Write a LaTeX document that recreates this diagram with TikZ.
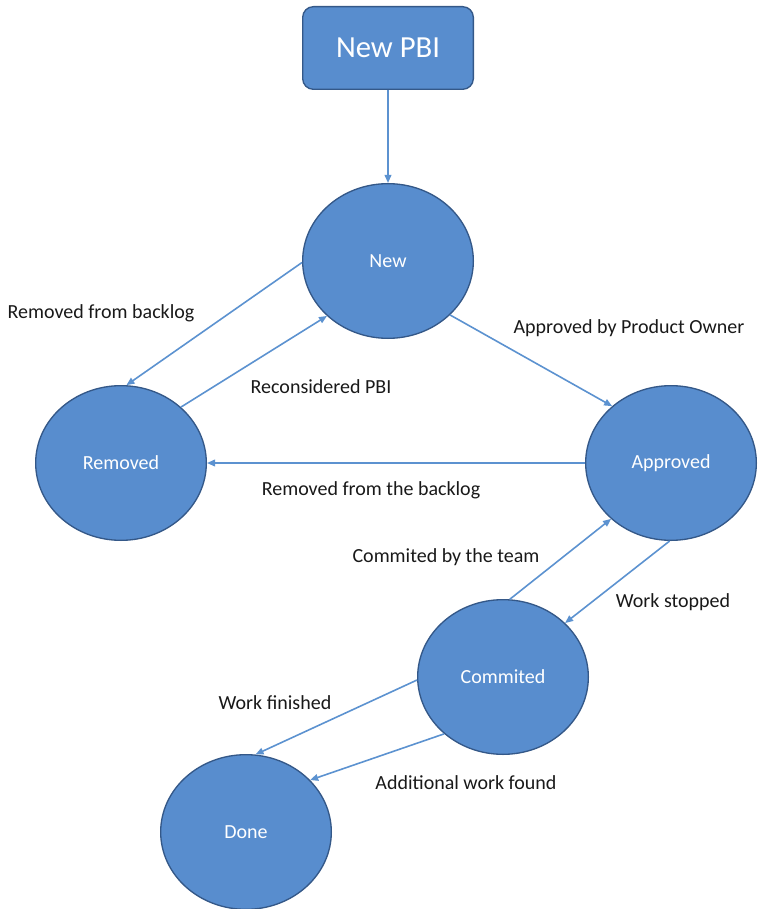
\documentclass[tikz,border=0pt]{standalone}
\usepackage{fontspec}
\setmainfont{Carlito}
\usetikzlibrary{arrows.meta, shapes.geometric}
\definecolor{stfill}{RGB}{88,141,206}
\definecolor{stline}{RGB}{52,88,136}
\definecolor{arrblue}{RGB}{92,146,208}
\definecolor{lbltxt}{RGB}{25,25,25}

\begin{document}
\begin{tikzpicture}[
  x=0.75pt, y=-0.75pt,
  >={Triangle[length=6pt, width=5pt]},
  state/.style  = {ellipse, draw=stline, fill=stfill, line width=1pt, text=white,
                   minimum width=128pt, minimum height=116pt, inner sep=0pt,
                   font=\fontsize{15}{18}\selectfont},
  startbox/.style = {draw=stline, fill=stfill, line width=1pt, rounded corners=8pt, text=white,
                   minimum width=128pt, minimum height=62pt, font=\fontsize{23}{27}\selectfont},
  lbl/.style    = {text=lbltxt, font=\fontsize{15}{18}\selectfont, inner sep=1pt},
  arr/.style    = {->, line width=1.2pt, arrblue},
]
  \useasboundingbox (0,0) rectangle (762,909);

  % start box and the five states of a backlog item
  \node[startbox] (pbi)      at (388,48)  {New PBI};
  \node[state]    (new)      at (388,261) {New};
  \node[state]    (removed)  at (121,463) {Removed};
  \node[state]    (approved) at (671,463) {Approved};
  \node[state]    (commited) at (503,677) {Commited};
  \node[state]    (done)     at (246,832) {Done};

  % transitions
  \foreach \a/\b in {pbi/new, new.181/removed.86, removed.43/new.222, new.319/approved.136,
                     approved.180/removed.0, commited.85/approved.223, approved.269/commited.41,
                     commited.182/done.83, commited.224/done.39}
     \draw[arr] (\a) -- (\b);

  % transition labels
  \node[lbl] (l1) at (101,313) {Removed from backlog};
  \node[lbl] (l2) at (321,387) {Reconsidered PBI};
  \node[lbl] (l3) at (629,328) {Approved by Product Owner};
  \node[lbl] (l4) at (371,490) {Removed from the backlog};
  \node[lbl] (l5) at (446,557) {Commited by the team};
  \node[lbl] (l6) at (673,602) {Work stopped};
  \node[lbl] (l7) at (275,703) {Work finished};
  \node[lbl] (l8) at (466,783) {Additional work found};
\end{tikzpicture}
\end{document}
